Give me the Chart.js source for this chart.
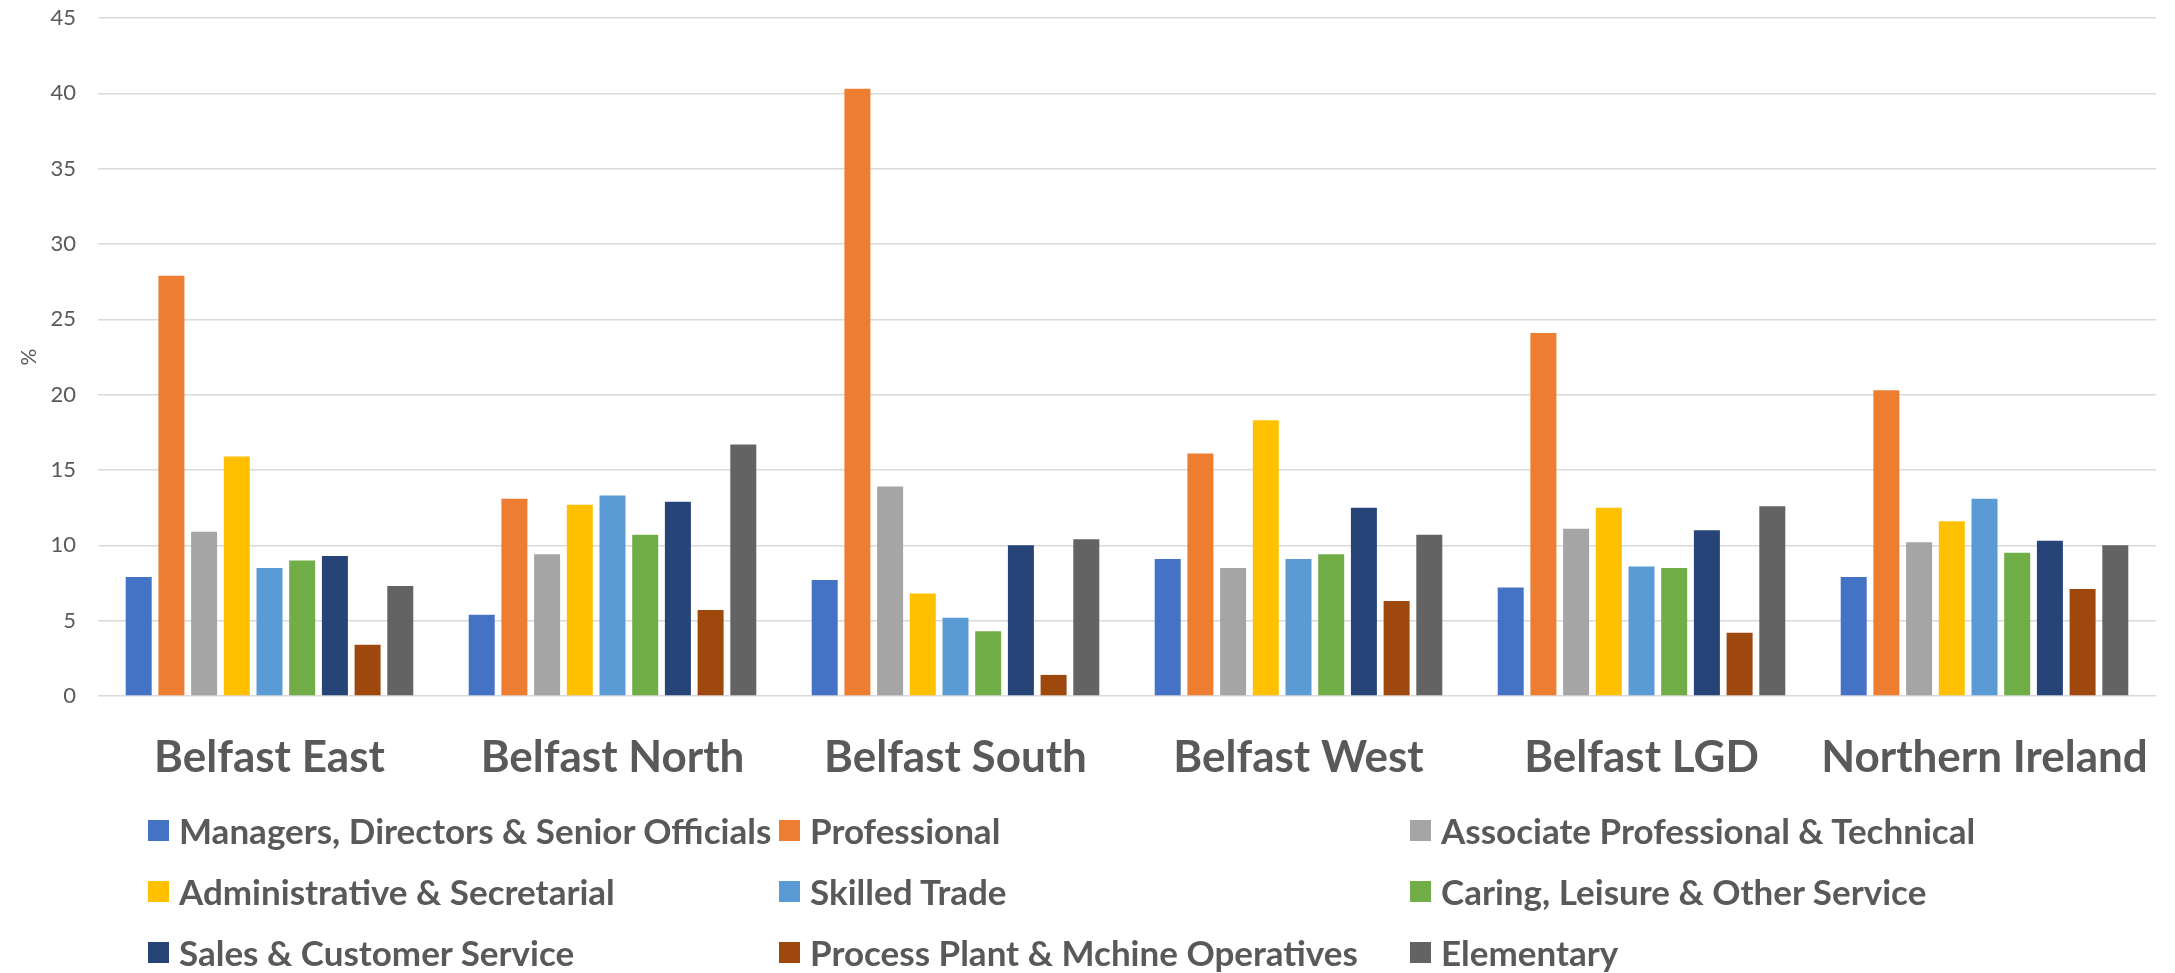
<!DOCTYPE html>
<html>
<head>
<meta charset="utf-8">
<script src="https://cdn.jsdelivr.net/npm/chart.js@4.4.1/dist/chart.umd.min.js"></script>
<style>
  body { margin: 0; background: #fff; }
  #wrap { position: relative; width: 2175px; height: 973px; }
  #legend { position: absolute; left: 148px; top: 804px; display: grid;
            grid-template-columns: 631px 631px 631px; grid-auto-rows: 61px;
            font-family: Lato, "Open Sans", sans-serif; font-weight: bold; font-size: 35px; color: #595959; }
  .item { display: flex; align-items: center; height: 52px; white-space: nowrap; }
  .box { width: 21px; height: 21px; margin-right: 10px; flex: none; }
</style>
</head>
<body>
<div id="wrap">
  <canvas id="chart" width="2175" height="973"></canvas>
  <div id="legend"></div>
</div>
<script>
const areas = ["Belfast East", "Belfast North", "Belfast South", "Belfast West", "Belfast LGD", "Northern Ireland"];
const occupations = [
  "Managers, Directors & Senior Officials", "Professional", "Associate Professional & Technical",
  "Administrative & Secretarial", "Skilled Trade", "Caring, Leisure & Other Service",
  "Sales & Customer Service", "Process Plant & Mchine Operatives", "Elementary"
];
const colours = ["#4472C4", "#ED7D31", "#A5A5A5", "#FFC000", "#5B9BD5", "#70AD47", "#264478", "#9E480E", "#636363"];

// one array per occupation, values per area (%)
const managers     = [7.9, 5.4, 7.7, 9.1, 7.2, 7.9];
const professional = [27.9, 13.1, 40.3, 16.1, 24.1, 20.3];
const associate    = [10.9, 9.4, 13.9, 8.5, 11.1, 10.2];
const admin        = [15.9, 12.7, 6.8, 18.3, 12.5, 11.6];
const skilled      = [8.5, 13.3, 5.2, 9.1, 8.6, 13.1];
const caring       = [9.0, 10.7, 4.3, 9.4, 8.5, 9.5];
const sales        = [9.3, 12.9, 10.0, 12.5, 11.0, 10.3];
const process      = [3.4, 5.7, 1.4, 6.3, 4.2, 7.1];
const elementary   = [7.3, 16.7, 10.4, 10.7, 12.6, 10.0];
const series = [managers, professional, associate, admin, skilled, caring, sales, process, elementary];

const yTicks = [0, 5, 10, 15, 20, 25, 30, 35, 40, 45];

const grey = "#595959";

const chart = new Chart(document.getElementById("chart"), {
    type: "bar",
    data: {
        labels: areas,
        datasets: occupations.map((name, i) => ({
            label: name,
            data: series[i],
            backgroundColor: colours[i],
            borderWidth: 0
        }))
    },
    options: {
        responsive: false,
        animation: false,
        categoryPercentage: 0.858,
        barPercentage: 0.795,
        layout: { padding: { top: 18, right: 19, left: 0, bottom: 0 } },
        plugins: {
            legend: { display: false },
            tooltip: { enabled: false }
        },
        scales: {
            x: {
                grid: { display: false, drawTicks: false },
                border: { display: false },
                ticks: {
                    color: grey,
                    padding: 35,
                    font: { family: "Lato, 'Open Sans', sans-serif", weight: "bold", size: 44 }
                },
                afterFit: (s) => { s.height = 277; s.paddingLeft = 0; s.paddingRight = 0; }
            },
            y: {
                min: 0,
                max: 45,
                afterBuildTicks: (s) => { s.ticks = yTicks.map(v => ({ value: v })); },
                grid: { color: "#d9d9d9", lineWidth: 1.5, drawTicks: false },
                border: { display: false },
                ticks: {
                    color: grey,
                    padding: 22,
                    font: { family: "Lato, 'Open Sans', sans-serif", size: 22 }
                },
                title: {
                    display: true,
                    text: "%",
                    color: grey,
                    padding: { top: 17, bottom: 0 },
                    font: { family: "Lato, 'Open Sans', sans-serif", size: 21 }
                },
                afterFit: (s) => { s.width = 98; s.paddingTop = 0; s.paddingBottom = 0; }
            }
        }
    }
});

// legend laid out as a three column grid, same as the original
const legend = document.getElementById("legend");
occupations.forEach((name, i) => {
    const item = document.createElement("div");
    item.className = "item";
    const box = document.createElement("span");
    box.className = "box";
    box.style.background = colours[i];
    const txt = document.createElement("span");
    txt.textContent = name;
    item.appendChild(box);
    item.appendChild(txt);
    legend.appendChild(item);
});
</script>
</body>
</html>
